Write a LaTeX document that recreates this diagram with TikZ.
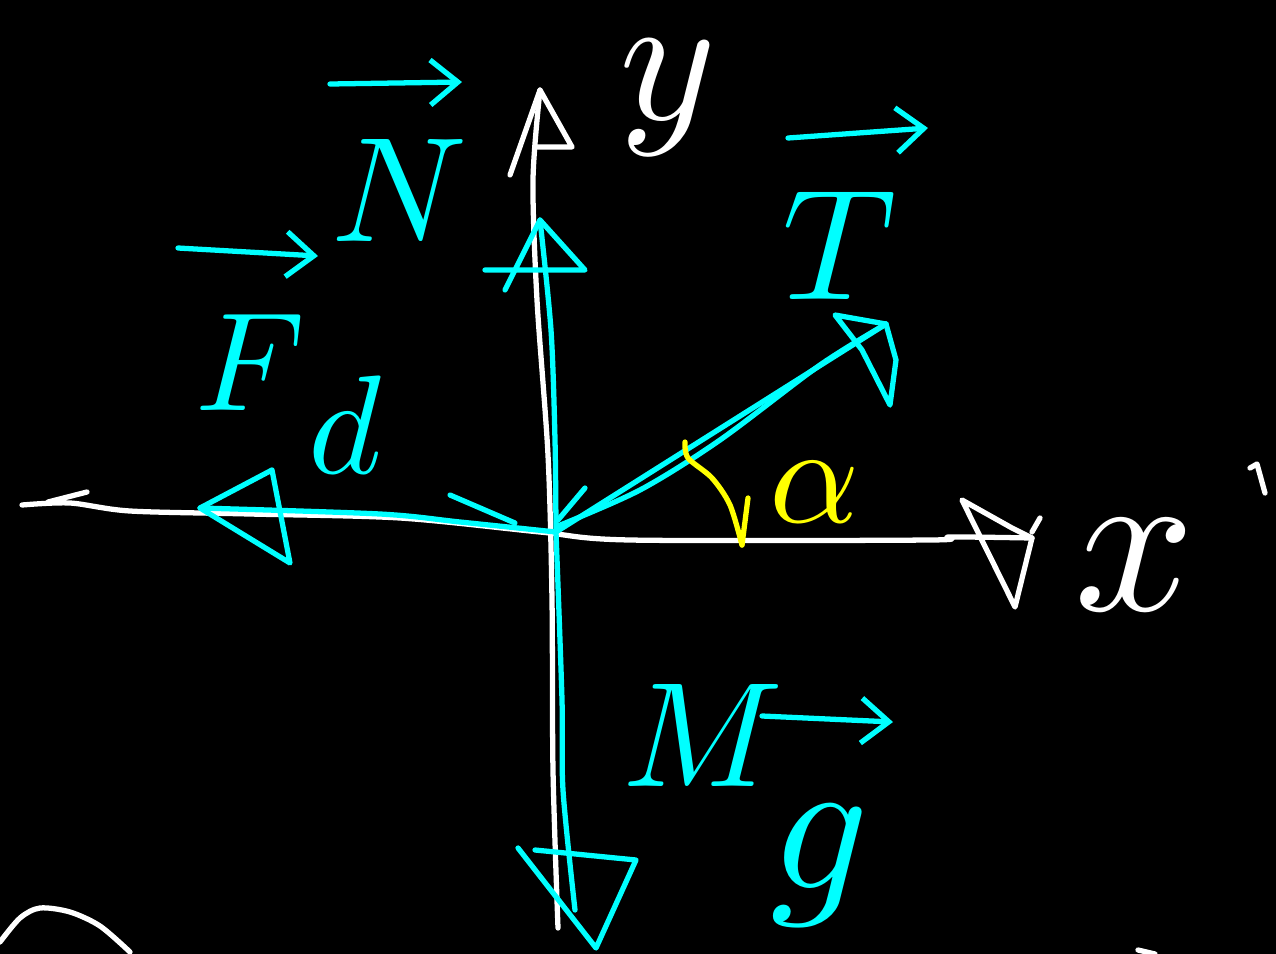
\documentclass[tikz,border=0pt]{standalone}
\usetikzlibrary{calc,arrows.meta}
\definecolor{cy}{RGB}{0,255,255}
\definecolor{ye}{RGB}{255,255,0}
\begin{document}
\begin{tikzpicture}[x=0.02cm,y=-0.02cm,line width=3pt,line cap=round,line join=round,
  axis/.style={draw=white},
  vecline/.style={draw=cy},
  head/.style={draw=cy},
  axhead/.style={draw=white},
  overarrow/.style={draw=cy,-{Straight Barb[length=0.55cm,width=0.9cm]}},
  lab/.style={text=cy,inner sep=0pt},
  axlab/.style={text=white,inner sep=0pt}]
\fill[black] (0,0) rectangle (1276,954);
\useasboundingbox (0,0) rectangle (1276,954);
% coordinates
\coordinate (O) at (556,532);
\coordinate (ytip) at (540,90);
\coordinate (xtip) at (1032,538);
\coordinate (Ntip) at (540,220);
\coordinate (Ttip) at (886,324);
\coordinate (Ftip) at (200,508);
\coordinate (Gtip) at (596,948);
% axes
\draw[axis] plot[smooth] coordinates {(558,928) (553,770) (552,600) (548,455) (537,300) (533,180) (ytip)};
\draw[axis] plot[smooth] coordinates {(22,505) (70,503) (130,511) (250,514) (400,518) (540,532) (630,540) (930,540) (950,537) (xtip)};
\draw[axis] (48,502) -- (87,492);
\draw[axhead] (510,175) -- (ytip) -- (572,147) -- (537,147);
\draw[axhead] (962,500) -- (1012,528) -- (xtip) -- (1015,607) -- cycle;
\draw[axhead] (1032,532) -- (1040,518);
% N vector
\draw[vecline] plot[smooth] coordinates {(O) (555,440) (551,330) (Ntip)};
\draw[head] (485,270) -- (585,270) -- (Ntip) -- (505,290);
% T vector
\draw[vecline] (O) -- (Ttip);
\draw[vecline] plot[smooth] coordinates {(558,526) (640,490) (720,440) (820,365) (Ttip)};
\draw[head] (835,315) -- (Ttip) -- (896,360) -- (890,405) -- (862,350) -- cycle;
% Fd vector
\draw[vecline] plot[smooth] coordinates {(O) (460,522) (380,514) (Ftip)};
\draw[head] (272,470) -- (Ftip) -- (290,563) -- (272,470);
% Mg vector
\draw[vecline] plot[smooth] coordinates {(O) (562,700) (563,790) (575,910)};
\draw[head] (518,848) -- (Gtip) -- (636,860) -- (535,850);
% small strokes
\draw[vecline] (450,495) -- (515,523);
\draw[vecline] (558,520) -- (585,488);
% angle
\draw[ye] plot[smooth] coordinates {(685,442) (688,458) (712,478) (730,505) (742,545)};
\draw[ye] (742,545) -- (748,498);
% labels
\node[axlab,scale=10.5] (ly) at (668,98) {$y$};
\node[axlab,scale=12] (lx) at (1135,565) {$x$};
\node[lab,scale=8.5] (lN) at (400,190) {$N$};
\node[lab,scale=9] (lT) at (840,245) {$T$};
\node[lab,scale=8] (lF) at (250,362) {$F$};
\node[lab,scale=8] (ld) at (345,425) {$d$};
\node[lab,scale=8.5] (lM) at (703,735) {$M$};
\node[lab,scale=11] (lg) at (820,866) {$g$};
\node[text=ye,inner sep=0pt,scale=8] (la) at (815,492) {$\alpha$};
% arrows over the labels
\draw[overarrow] (330,84) -- (462,82);
\draw[overarrow] (788,138) -- (928,128);
\draw[overarrow] (178,248) -- (318,256);
\draw[overarrow] (762,716) -- (893,722);
% edge scribbles
\draw[axis] plot[smooth] coordinates {(0,942) (20,918) (40,908) (70,912) (100,926) (130,952)};
\draw[axis] (1250,468) -- (1257,464) -- (1265,493);
\draw[axis] (1138,950) -- (1155,954);
\end{tikzpicture}
\end{document}
